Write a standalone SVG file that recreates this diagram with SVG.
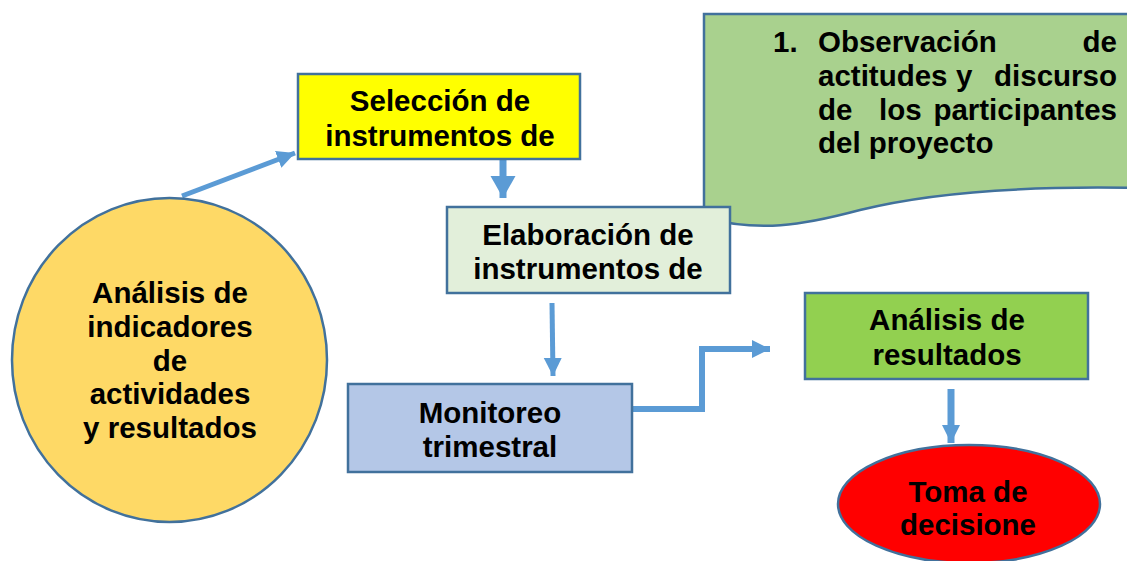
<svg xmlns="http://www.w3.org/2000/svg" width="1127" height="561" viewBox="0 0 1127 561">
<defs>
<style>
.t{font-family:"Liberation Sans",Arial,sans-serif;font-weight:bold;font-size:29.5px;fill:#000;}
.c{text-anchor:middle;}
.e{text-anchor:end;}
.box{stroke:#41719C;stroke-width:2.5;}
.con{fill:none;stroke:#5B9BD5;stroke-linejoin:miter;}
</style>
<marker id="ah" markerUnits="userSpaceOnUse" markerWidth="20" markerHeight="20" refX="18" refY="9" orient="auto" viewBox="0 0 20 20">
<path d="M0,0 L18,9 L0,18 z" fill="#5B9BD5"/>
</marker>
<marker id="ahb" markerUnits="userSpaceOnUse" markerWidth="26" markerHeight="26" refX="22" refY="12.5" orient="auto" viewBox="0 0 26 26">
<path d="M0,0 L22,12.5 L0,25 z" fill="#5B9BD5"/>
</marker>
</defs>
<rect width="1127" height="561" fill="#fff"/>

<g id="observacion">
<path class="box" d="M704,14 H1140 V188 C1040,186 940,190 860,210 C800,226 760,232 704,218 Z" fill="#A9D18E"/>
<text class="t" x="773" y="52">1.</text>
<text class="t" x="818" y="52">Observación</text>
<text class="t e" x="1117" y="52">de</text>
<text class="t" x="818" y="86">actitudes</text>
<text class="t" x="956" y="86">y</text>
<text class="t e" x="1117" y="86">discurso</text>
<text class="t" x="818" y="120">de</text>
<text class="t" x="879" y="120">los</text>
<text class="t e" x="1117" y="120">participantes</text>
<text class="t" x="818" y="153">del proyecto</text>
</g>

<g id="connectors">
<line class="con" x1="182" y1="196" x2="295" y2="153" stroke-width="5" marker-end="url(#ah)"/>
<line class="con" x1="503" y1="160" x2="503" y2="198" stroke-width="7" marker-end="url(#ahb)"/>
<line class="con" x1="552" y1="303" x2="553" y2="376" stroke-width="5" marker-end="url(#ah)"/>
<polyline class="con" points="632,409 702,409 702,349 770,349" stroke-width="6" marker-end="url(#ah)"/>
<line class="con" x1="951" y1="389" x2="951" y2="443" stroke-width="7" marker-end="url(#ah)"/>
</g>

<g id="analisis-indicadores">
<ellipse class="box" cx="169.5" cy="360" rx="157.5" ry="162" fill="#FED966"/>
<text class="t c" x="170" y="303">Análisis de</text>
<text class="t c" x="170" y="337">indicadores</text>
<text class="t c" x="170" y="371">de</text>
<text class="t c" x="170" y="404">actividades</text>
<text class="t c" x="170" y="438">y resultados</text>
</g>

<g id="seleccion">
<rect class="box" x="298" y="74" width="282" height="85" fill="#FFFF00"/>
<text class="t c" x="440" y="111">Selección de</text>
<text class="t c" x="440" y="146">instrumentos de</text>
</g>

<g id="elaboracion">
<rect class="box" x="447" y="207" width="283" height="86" fill="#E2EFDA"/>
<text class="t c" x="588" y="245">Elaboración de</text>
<text class="t c" x="588" y="279">instrumentos de</text>
</g>

<g id="monitoreo">
<rect class="box" x="348" y="384" width="284" height="88" fill="#B4C7E7"/>
<text class="t c" x="490" y="423">Monitoreo</text>
<text class="t c" x="490" y="457">trimestral</text>
</g>

<g id="analisis-resultados">
<rect class="box" x="805" y="293" width="283" height="86" fill="#92D050"/>
<text class="t c" x="947" y="330">Análisis de</text>
<text class="t c" x="947" y="365">resultados</text>
</g>

<g id="toma-decisiones">
<ellipse class="box" cx="969" cy="504" rx="131" ry="59" fill="#FF0000"/>
<text class="t c" x="968" y="502">Toma de</text>
<text class="t c" x="968" y="535">decisione</text>
</g>
</svg>
